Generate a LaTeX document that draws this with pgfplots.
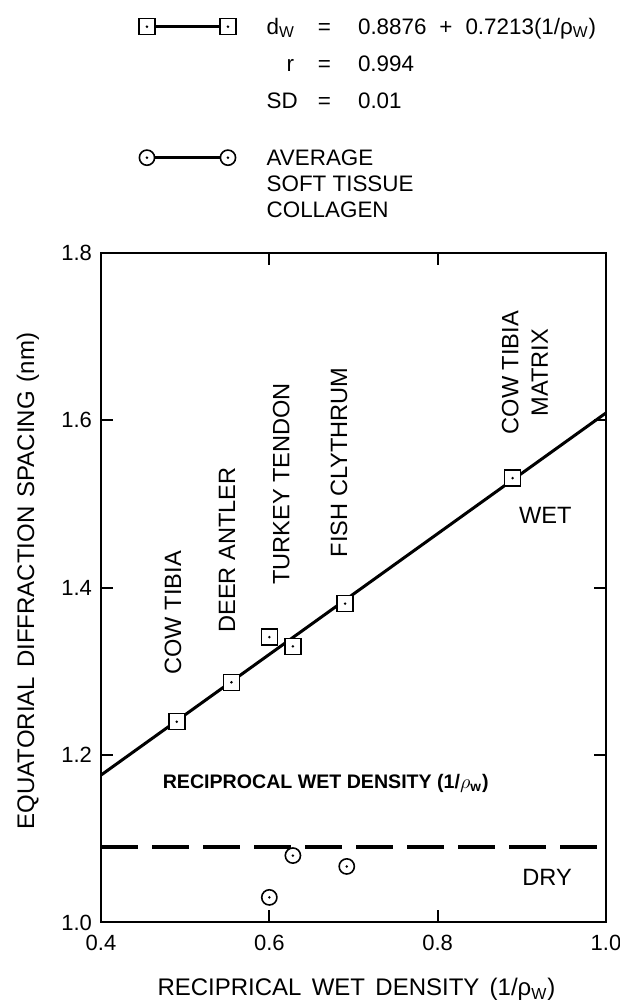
\documentclass[border=0pt]{standalone}
\usepackage{fontspec}
\setmainfont{Liberation Sans}
\usepackage{pgfplots}
\pgfplotsset{compat=1.18}

\pgfdeclareplotmark{sqdot}{%
  \pgfpathrectangle{\pgfpoint{-\pgfplotmarksize}{-\pgfplotmarksize}}{\pgfpoint{2\pgfplotmarksize}{2\pgfplotmarksize}}%
  \pgfusepathqfillstroke
  \pgfscope\pgfsetfillcolor{black}%
  \pgfpathcircle{\pgfpointorigin}{0.7pt}\pgfusepathqfill\endpgfscope}
\pgfdeclareplotmark{cdot}{%
  \pgfpathcircle{\pgfpointorigin}{\pgfplotmarksize}%
  \pgfusepathqfillstroke
  \pgfscope\pgfsetfillcolor{black}%
  \pgfpathcircle{\pgfpointorigin}{0.7pt}\pgfusepathqfill\endpgfscope}

\pgfplotsset{
  sqlegend/.style={legend image code/.code={%
    \draw[line width=1.5pt, black, mark=sqdot, mark size=4pt,
      mark options={line width=0.8pt, fill=white, solid}]
      plot coordinates {(0pt,4pt) (40.5pt,4pt)};}},
  cilegend/.style={legend image code/.code={%
    \draw[line width=1.5pt, black, mark=cdot, mark size=3.8pt,
      mark options={line width=0.8pt, fill=white, solid}]
      plot coordinates {(0pt,4pt) (40.5pt,4pt)};}},
}

\pgfplotstableread{
x y
0.490 1.240
0.555 1.287
0.600 1.341
0.628 1.330
0.690 1.381
0.889 1.531
}\wetdata

\pgfplotstableread{
x y
0.600 1.030
0.628 1.080
0.692 1.067
}\drydata

\begin{document}
\begin{tikzpicture}
\useasboundingbox (0,0) rectangle (310pt,502.5pt);
\begin{axis}[
  at={(50.5pt,41.25pt)}, anchor=south west,
  scale only axis, width=252.5pt, height=334.75pt,
  xmin=0.4, xmax=1.0, ymin=1.0, ymax=1.8,
  xtick={0.4,0.6,0.8,1.0}, ytick={1.0,1.2,1.4,1.6,1.8},
  tick align=inside, major tick length=6pt,
  axis line style={line width=1pt},
  tick style={line width=1pt, black},
  /pgf/number format/fixed,
  /pgf/number format/fixed zerofill,
  /pgf/number format/precision=1,
  /pgf/number format/assume math mode=true,
  xticklabel style={font=\fontsize{11}{13}\selectfont, yshift=-2.7pt},
  yticklabel style={font=\fontsize{11}{13}\selectfont, xshift=-1pt},
  xlabel={RECIPRICAL\hspace{0.15em} WET\hspace{0.15em} DENSITY\hspace{0.15em} (1/ρ\textsubscript{W})},
  ylabel={EQUATORIAL\hspace{0.1em} DIFFRACTION\hspace{0.1em} SPACING\hspace{0.1em} (nm)},
  xlabel style={font=\fontsize{12}{14}\selectfont, at={(axis description cs:0.506,-0.100)}, anchor=center},
  ylabel style={font=\fontsize{12}{14}\selectfont, at={(axis description cs:-0.1446,0.510)}, anchor=center},
  legend style={at={(axis description cs:0.0752,1.356)}, anchor=north west,
    draw=none, fill=none, inner sep=0pt, outer sep=0pt,
    row sep=0pt, column sep=15.35pt,
    cells={anchor=base west, inner sep=0pt},
    nodes={inner sep=0pt, text depth=},
    font=\fontsize{11.2}{13}\selectfont},
]
\addplot[black, line width=1.5pt, forget plot] coordinates {(0.4,1.17612) (1.0,1.6089)};
\addplot[black, line width=2pt, dash pattern=on 18.5pt off 7pt, forget plot] coordinates {(0.4,1.09) (1.0,1.09)};
\addplot[only marks, black, mark=sqdot, mark size=4pt, mark options={line width=0.8pt, fill=white}, forget plot] table {\wetdata};
\addplot[only marks, black, mark=cdot, mark size=3.8pt, mark options={line width=0.8pt, fill=white}, forget plot] table {\drydata};

\addlegendimage{sqlegend}
\addlegendentry{\rule[-4.5pt]{0pt}{14.5pt}\makebox[25.65pt][l]{d\textsubscript{W}}=\hspace{13.5pt}0.8876\hspace{0.3em} + \hspace{0.3em}0.7213(1/ρ\textsubscript{W})}
\addlegendimage{empty legend}
\addlegendentry{\rule[-4.5pt]{0pt}{18.5pt}\makebox[25.65pt][l]{\hspace{10pt}r}=\hspace{13.5pt}0.994}
\addlegendimage{empty legend}
\addlegendentry{\rule[-4.5pt]{0pt}{18.5pt}\makebox[25.65pt][l]{SD}=\hspace{13.5pt}0.01}
\addlegendimage{cilegend}
\addlegendentry{\rule[-3.5pt]{0pt}{27.5pt}AVERAGE}
\addlegendimage{empty legend}
\addlegendentry{\rule[-3.5pt]{0pt}{13pt}SOFT TISSUE}
\addlegendimage{empty legend}
\addlegendentry{\rule[-3.5pt]{0pt}{13pt}COLLAGEN}

\begin{scope}[every node/.style={font=\fontsize{11.8}{14.75}\selectfont}]
\node[rotate=90] at (axis cs:0.4855,1.370) {COW TIBIA};
\node[rotate=90] at (axis cs:0.5497,1.445) {DEER ANTLER};
\node[rotate=90] at (axis cs:0.6143,1.524) {TURKEY TENDON};
\node[rotate=90] at (axis cs:0.6828,1.550) {FISH CLYTHRUM};
\node[rotate=90, align=center] at (axis cs:0.9037,1.657) {COW TIBIA\\MATRIX};
\node at (axis cs:0.928,1.487) {WET};
\node at (axis cs:0.930,1.054) {DRY};
\end{scope}
\node[font=\bfseries\fontsize{9.8}{12}\selectfont] at (axis cs:0.667,1.1667) {RECIPROCAL WET DENSITY (1/$\rho$\textsubscript{w})};
\end{axis}
\end{tikzpicture}
\end{document}
